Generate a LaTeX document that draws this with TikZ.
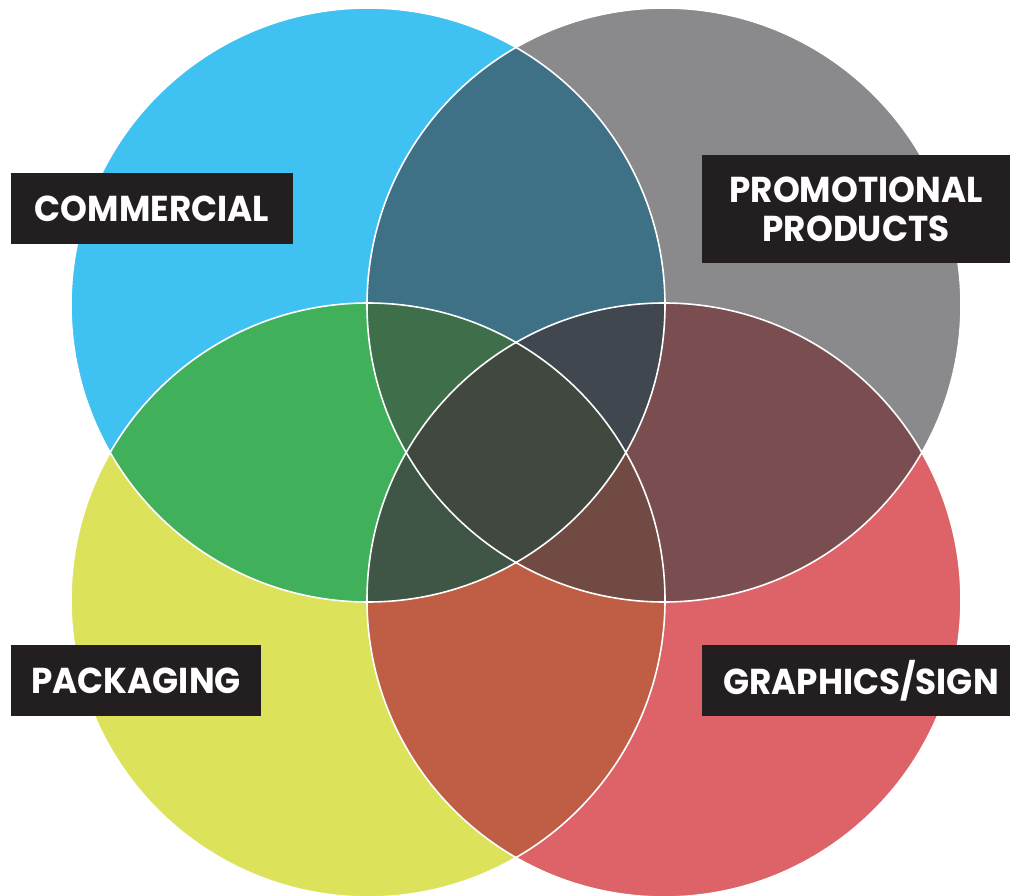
\documentclass[tikz,border=0pt]{standalone}
\usepackage{fontspec}
\setmainfont{Poppins}
\definecolor{cA}{HTML}{3FC1F1}
\definecolor{cB}{HTML}{8A898B}
\definecolor{cC}{HTML}{DCE35B}
\definecolor{cD}{HTML}{DE6368}
\definecolor{cAB}{HTML}{3E7186}
\definecolor{cAC}{HTML}{40B05A}
\definecolor{cBD}{HTML}{7A4E51}
\definecolor{cCD}{HTML}{C05D45}
\definecolor{cABC}{HTML}{3F6E4A}
\definecolor{cABD}{HTML}{40474F}
\definecolor{cACD}{HTML}{3F5546}
\definecolor{cBCD}{HTML}{714B43}
\definecolor{cABCD}{HTML}{414840}
\definecolor{boxblack}{HTML}{231F20}
\newcommand{\vennlbl}[1]{\scalebox{0.95}[1]{#1}}
\tikzset{
  labelbox/.style={fill=boxblack, text=white, inner sep=0pt, align=center,
    font=\fontsize{36}{39}\selectfont\bfseries},
  ring/.style={draw=white, line width=1.6pt}
}
\begin{document}
\begin{tikzpicture}[x=1pt,y=-1pt]
\useasboundingbox (0,0) rectangle (1010,896);
\coordinate (A) at (368,305);
\coordinate (B) at (664,305);
\coordinate (C) at (368,600);
\coordinate (D) at (664,600);
\def\R{297pt}
% single circles
\fill[cA] (A) circle[radius=\R];
\fill[cB] (B) circle[radius=\R];
\fill[cC] (C) circle[radius=\R];
\fill[cD] (D) circle[radius=\R];
% pairs
\begin{scope}\clip (A) circle[radius=\R]; \fill[cAB] (B) circle[radius=\R];\end{scope}
\begin{scope}\clip (A) circle[radius=\R]; \fill[cAC] (C) circle[radius=\R];\end{scope}
\begin{scope}\clip (B) circle[radius=\R]; \fill[cBD] (D) circle[radius=\R];\end{scope}
\begin{scope}\clip (C) circle[radius=\R]; \fill[cCD] (D) circle[radius=\R];\end{scope}
% triples
\begin{scope}\clip (A) circle[radius=\R]; \clip (B) circle[radius=\R]; \fill[cABC] (C) circle[radius=\R];\end{scope}
\begin{scope}\clip (A) circle[radius=\R]; \clip (B) circle[radius=\R]; \fill[cABD] (D) circle[radius=\R];\end{scope}
\begin{scope}\clip (A) circle[radius=\R]; \clip (C) circle[radius=\R]; \fill[cACD] (D) circle[radius=\R];\end{scope}
\begin{scope}\clip (B) circle[radius=\R]; \clip (C) circle[radius=\R]; \fill[cBCD] (D) circle[radius=\R];\end{scope}
% all four
\begin{scope}\clip (A) circle[radius=\R]; \clip (B) circle[radius=\R]; \clip (C) circle[radius=\R]; \fill[cABCD] (D) circle[radius=\R];\end{scope}
% outlines
\foreach \p in {A,B,C,D} \draw[ring] (\p) circle[radius=\R];
% labels
\node[labelbox, minimum width=282pt, minimum height=71pt] (commercial) at (152,208.5) {\vennlbl{COMMERCIAL}};
\node[labelbox, minimum width=308pt, minimum height=108pt] (promo) at (856,209) {\vennlbl{PROMOTIONAL}\\\vennlbl{PRODUCTS}};
\node[labelbox, minimum width=250pt, minimum height=71pt] (packaging) at (136,680.5) {\vennlbl{PACKAGING}};
\node[labelbox, minimum width=308pt, minimum height=71pt] (graphics) at (856,680.5) {\hspace*{10pt}\vennlbl{GRAPHICS/SIGN}};
\end{tikzpicture}
\end{document}
